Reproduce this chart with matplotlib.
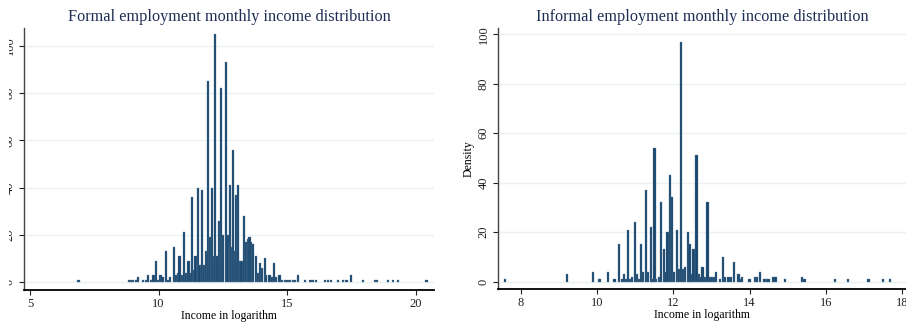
import numpy as np
import matplotlib.pyplot as plt
from matplotlib.patches import Rectangle

plt.rcParams['font.family'] = ['Liberation Serif', 'DejaVu Serif']

# Formal employment: bin centres (log income) and bar heights
formal_x = [6.89, 8.84, 8.93, 9.02, 9.11, 9.19, 9.38, 9.51, 9.60, 9.71,
            9.80, 9.89, 9.98, 10.07, 10.15, 10.29, 10.37, 10.45, 10.59, 10.67,
            10.75, 10.81, 10.90, 10.99, 11.07, 11.16, 11.21, 11.29, 11.37, 11.43,
            11.52, 11.59, 11.69, 11.77, 11.84, 11.91, 11.99, 12.07, 12.12, 12.20,
            12.29, 12.35, 12.43, 12.51, 12.61, 12.68, 12.76, 12.82, 12.89, 12.96,
            13.02, 13.09, 13.15, 13.22, 13.31, 13.38, 13.46, 13.53, 13.60, 13.66,
            13.77, 13.86, 13.94, 14.01, 14.12, 14.18, 14.31, 14.40, 14.49, 14.57,
            14.70, 14.81, 14.91, 15.01, 15.12, 15.22, 15.31, 15.42, 15.68, 15.90,
            16.00, 16.10, 16.45, 16.58, 16.71, 16.97, 17.17, 17.30, 17.49, 17.94,
            18.40, 18.49, 18.92, 19.11, 19.31, 20.41]
formal_h = [1, 1, 1, 1, 1, 2, 1, 1, 3, 1,
            3, 9, 1, 3, 2, 13, 1, 2, 15, 3,
            4, 11, 3, 21, 4, 9, 4, 36, 5, 11,
            40, 7, 39, 7, 13, 85, 19, 40, 11, 105,
            11, 26, 82, 20, 93, 20, 41, 15, 56, 13,
            37, 41, 9, 9, 28, 17, 18, 19, 17, 16,
            11, 4, 8, 6, 10, 3, 3, 2, 8, 2,
            3, 1, 1, 1, 1, 1, 1, 3, 1, 1,
            1, 1, 1, 1, 1, 1, 1, 1, 3, 1,
            1, 1, 1, 1, 1, 1]

# Informal employment
informal_x = [7.60, 9.21, 9.90, 10.05, 10.08, 10.30, 10.46, 10.59, 10.65, 10.71,
              10.77, 10.82, 10.87, 10.92, 10.99, 11.06, 11.11, 11.15, 11.21, 11.28,
              11.34, 11.41, 11.46, 11.51, 11.56, 11.62, 11.69, 11.76, 11.80, 11.85,
              11.92, 11.97, 12.03, 12.10, 12.15, 12.20, 12.25, 12.31, 12.38, 12.43,
              12.48, 12.53, 12.61, 12.67, 12.71, 12.77, 12.83, 12.90, 12.96, 13.02,
              13.07, 13.12, 13.23, 13.30, 13.35, 13.45, 13.51, 13.59, 13.71, 13.76,
              13.80, 14.00, 14.14, 14.19, 14.28, 14.39, 14.45, 14.50, 14.63, 14.68,
              14.92, 15.37, 15.44, 16.23, 16.58, 17.12, 17.50, 17.69]
informal_h = [1, 3, 4, 1, 1, 4, 1, 15, 1, 3,
              1, 21, 1, 2, 24, 3, 1, 15, 4, 37,
              4, 22, 1, 54, 1, 2, 32, 13, 4, 20,
              43, 34, 4, 21, 5, 97, 5, 6, 20, 15,
              3, 13, 51, 3, 2, 6, 2, 32, 2, 2,
              2, 4, 1, 10, 2, 2, 2, 8, 3, 1,
              2, 1, 2, 2, 4, 1, 1, 1, 2, 2,
              1, 2, 1, 1, 1, 1, 1, 1]

bar_color = '#1a476f'
edge_color = '#5f7e9c'
grid_color = '#eaf2f3'
title_color = '#1e2d53'

fig = plt.figure(figsize=(9.06, 3.23), dpi=100)
ax1 = fig.add_axes([24 / 906, 33 / 323, 410 / 906, 262 / 323])
ax2 = fig.add_axes([498 / 906, 34 / 323, 408 / 906, 261 / 323])


def style_axes(ax, xticks, yticks, xlim, ylim):
    ax.set_xlim(*xlim)
    ax.set_ylim(*ylim)
    ax.set_xticks(xticks)
    ax.set_yticks(yticks)
    ax.set_yticklabels([str(t) for t in yticks], rotation=90, va='center')
    for s in ['top', 'right']:
        ax.spines[s].set_visible(False)
    ax.spines['bottom'].set_linewidth(1.3)
    ax.spines['bottom'].set_color('black')
    ax.spines['left'].set_linewidth(1.0)
    ax.spines['left'].set_color('#444444')
    ax.tick_params(axis='both', direction='out', length=3.3, width=0.8,
                   labelsize=9, pad=2.6, colors='#222222')
    ax.grid(axis='y', color=grid_color, linewidth=1.0)
    ax.set_axisbelow(True)
    ax.set_xlabel('Income in logarithm', fontsize=8.5, labelpad=0)


ax1.bar(formal_x, formal_h, width=0.085, color=bar_color,
        edgecolor=edge_color, linewidth=0.25)
style_axes(ax1, [5, 10, 15, 20], [0, 20, 40, 60, 80, 100], (4.77, 20.7), (-3.4, 107.6))
ax1.set_title('Formal employment monthly income distribution', fontsize=11.7,
              color=title_color, pad=5)

ax2.bar(informal_x, informal_h, width=0.058, color=bar_color,
        edgecolor=edge_color, linewidth=0.25)
style_axes(ax2, [8, 10, 12, 14, 16, 18], [0, 20, 40, 60, 80, 100], (7.41, 18.1), (-3.0, 102.5))
ax2.set_ylabel('Density', fontsize=8.5, labelpad=2)
ax2.set_title('Informal employment monthly income distribution', fontsize=11.7,
              color=title_color, pad=5)

# the source image is cropped at the left, cutting the y tick labels
fig.add_artist(Rectangle((0, 0), 8.5 / 906, 1, transform=fig.transFigure,
                         facecolor='white', edgecolor='none', zorder=10))

fig.savefig('out.png', dpi=100)
